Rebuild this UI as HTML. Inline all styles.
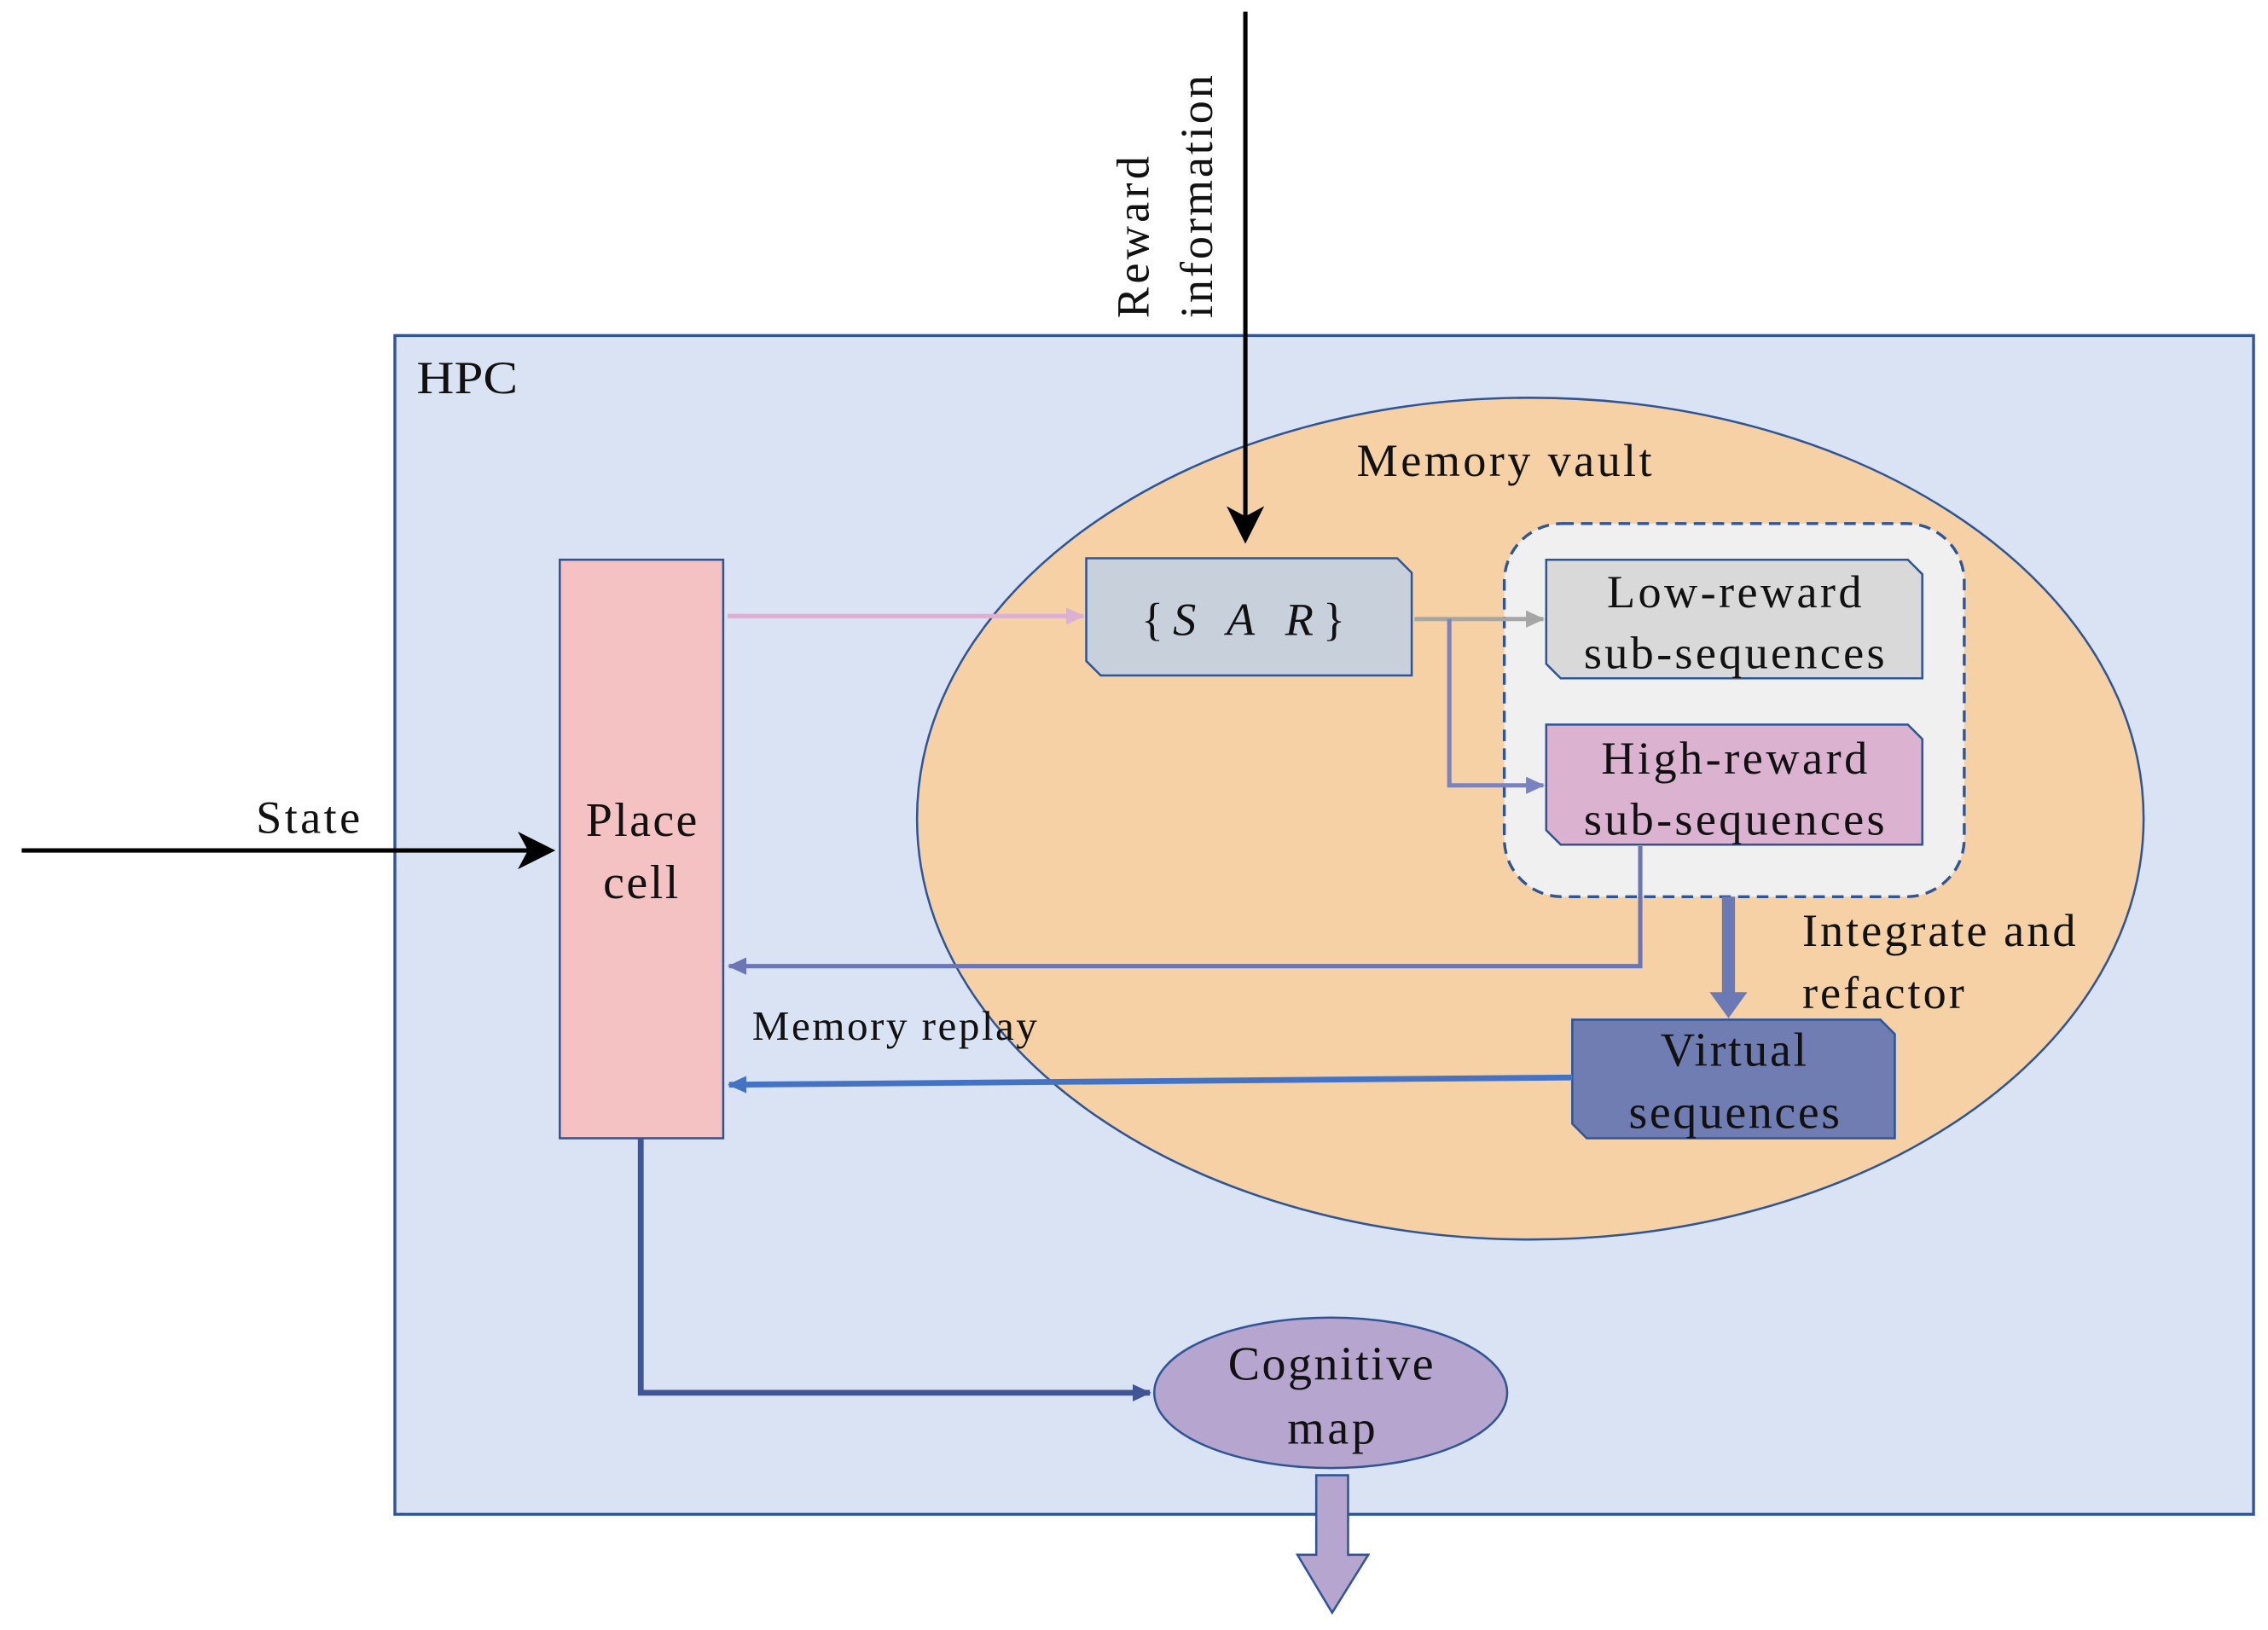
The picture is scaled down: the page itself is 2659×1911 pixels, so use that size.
<!DOCTYPE html>
<html><head><meta charset="utf-8"><style>
html,body{margin:0;padding:0;background:#fff;}
svg{display:block;}
text{font-family:"Liberation Serif",serif;fill:#111;}
</style></head><body>
<svg width="2659" height="1911" viewBox="0 0 1568 1127" preserveAspectRatio="none" xmlns="http://www.w3.org/2000/svg">
<defs>
<marker id="ab2" markerWidth="26" markerHeight="26" refX="22" refY="13" orient="auto" markerUnits="userSpaceOnUse"><path d="M0,0 L26,13 L0,26 L7,13 z" fill="#000"/></marker>
<marker id="ap" markerWidth="14" markerHeight="14" refX="12" refY="7" orient="auto" markerUnits="userSpaceOnUse"><path d="M0,1 L13,7 L0,13 z" fill="#dcb0d0"/></marker>
<marker id="ag" markerWidth="14" markerHeight="14" refX="12" refY="7" orient="auto" markerUnits="userSpaceOnUse"><path d="M0,1 L13,7 L0,13 z" fill="#a6a6a6"/></marker>
<marker id="apu" markerWidth="14" markerHeight="14" refX="12" refY="7" orient="auto" markerUnits="userSpaceOnUse"><path d="M0,1 L13,7 L0,13 z" fill="#7a82c0"/></marker>
<marker id="apd" markerWidth="14" markerHeight="14" refX="12" refY="7" orient="auto" markerUnits="userSpaceOnUse"><path d="M0,1 L13,7 L0,13 z" fill="#6c76b4"/></marker>
<marker id="abl" markerWidth="14" markerHeight="14" refX="12" refY="7" orient="auto" markerUnits="userSpaceOnUse"><path d="M0,1 L13,7 L0,13 z" fill="#4472c4"/></marker>
<marker id="adk" markerWidth="14" markerHeight="14" refX="12" refY="7" orient="auto" markerUnits="userSpaceOnUse"><path d="M0,1 L13,7 L0,13 z" fill="#3f5596"/></marker>
</defs>
<rect x="273" y="232" width="1285" height="815" fill="#dae3f3" stroke="#2f5597" stroke-width="2"/>
<text x="288" y="272" font-size="32" textLength="70" lengthAdjust="spacingAndGlyphs">HPC</text>
<ellipse cx="1058" cy="566" rx="424" ry="291" fill="#f5d1a5" stroke="#2f5597" stroke-width="1.5"/>
<text x="938" y="329" font-size="32" textLength="204" lengthAdjust="spacing">Memory vault</text>
<rect x="1040" y="362" width="318" height="258" rx="40" fill="#f0f0f0" stroke="#2f5597" stroke-width="2" stroke-dasharray="8,5"/>
<line x1="861" y1="8" x2="861" y2="372" stroke="#000" stroke-width="3" marker-end="url(#ab2)"/>
<text transform="translate(794,220) rotate(-90)" font-size="32" textLength="112" lengthAdjust="spacing">Reward</text>
<text transform="translate(838,220) rotate(-90)" font-size="32" textLength="168" lengthAdjust="spacing">information</text>
<rect x="387" y="387" width="113" height="400" fill="#f4c2c2" stroke="#2f5597" stroke-width="1.5"/>
<text x="405" y="578" font-size="33" textLength="77" lengthAdjust="spacing">Place</text>
<text x="417" y="621" font-size="33" textLength="52" lengthAdjust="spacing">cell</text>
<line x1="15" y1="588" x2="380" y2="588" stroke="#000" stroke-width="3" marker-end="url(#ab2)"/>
<text x="177" y="576" font-size="32" textLength="72" lengthAdjust="spacing">State</text>
<path d="M751,386 L966,386 L976,396 L976,467 L761,467 L751,457 Z" fill="#c8d0db" stroke="#2f5597" stroke-width="1.5"/>
<text x="789" y="439" font-size="32" textLength="141" lengthAdjust="spacing">{<tspan font-style="italic">S</tspan>   <tspan font-style="italic">A</tspan>   <tspan font-style="italic">R</tspan>}</text>
<path d="M1069,387 L1319,387 L1329,397 L1329,469 L1079,469 L1069,459 Z" fill="#d9d9d9" stroke="#2f5597" stroke-width="1.5"/>
<text x="1111" y="420" font-size="32" textLength="176" lengthAdjust="spacing">Low-reward</text>
<text x="1095" y="462" font-size="32" textLength="208" lengthAdjust="spacing">sub-sequences</text>
<path d="M1069,501 L1319,501 L1329,511 L1329,584 L1079,584 L1069,574 Z" fill="#dbb3d1" stroke="#2f5597" stroke-width="1.5"/>
<text x="1107" y="535" font-size="32" textLength="184" lengthAdjust="spacing">High-reward</text>
<text x="1095" y="577" font-size="32" textLength="208" lengthAdjust="spacing">sub-sequences</text>
<line x1="503" y1="426" x2="749" y2="426" stroke="#dcb0d0" stroke-width="3" marker-end="url(#ap)"/>
<line x1="978" y1="428" x2="1067" y2="428" stroke="#a6a6a6" stroke-width="3" marker-end="url(#ag)"/>
<polyline points="1002,428 1002,543 1067,543" fill="none" stroke="#7a82c0" stroke-width="3" marker-end="url(#apu)"/>
<polyline points="1134,585 1134,668 504,668" fill="none" stroke="#6c76b4" stroke-width="3" marker-end="url(#apd)"/>
<line x1="1195" y1="620" x2="1195" y2="688" stroke="#6b79b5" stroke-width="9"/>
<path d="M1182,686 L1208,686 L1195,704 Z" fill="#6b79b5"/>
<text x="1246" y="654" font-size="32" fill="#333" textLength="189" lengthAdjust="spacing">Integrate and</text>
<text x="1246" y="697" font-size="32" fill="#333" textLength="112" lengthAdjust="spacing">refactor</text>
<path d="M1087,705 L1300,705 L1310,715 L1310,787 L1097,787 L1087,777 Z" fill="#6f7db2" stroke="#2f5597" stroke-width="1.5"/>
<text x="1148" y="737" font-size="33" textLength="101" lengthAdjust="spacing">Virtual</text>
<text x="1126" y="780" font-size="33" textLength="146" lengthAdjust="spacing">sequences</text>
<text x="520" y="719" font-size="29" textLength="197" lengthAdjust="spacing">Memory replay</text>
<line x1="1087" y1="745" x2="504" y2="750" stroke="#4472c4" stroke-width="4" marker-end="url(#abl)"/>
<polyline points="443,787 443,963 795,963" fill="none" stroke="#3f5596" stroke-width="4" marker-end="url(#adk)"/>
<ellipse cx="920" cy="963" rx="122" ry="52" fill="#b5a5cf" stroke="#2f5597" stroke-width="1.5"/>
<text x="849" y="954" font-size="33" textLength="142" lengthAdjust="spacing">Cognitive</text>
<text x="890" y="998" font-size="33" textLength="61" lengthAdjust="spacing">map</text>
<path d="M910,1020 L932,1020 L932,1075 L946,1075 L921,1115 L897,1075 L910,1075 Z" fill="#b5a5cf" stroke="#2f5597" stroke-width="1.5"/>
</svg>
</body></html>
